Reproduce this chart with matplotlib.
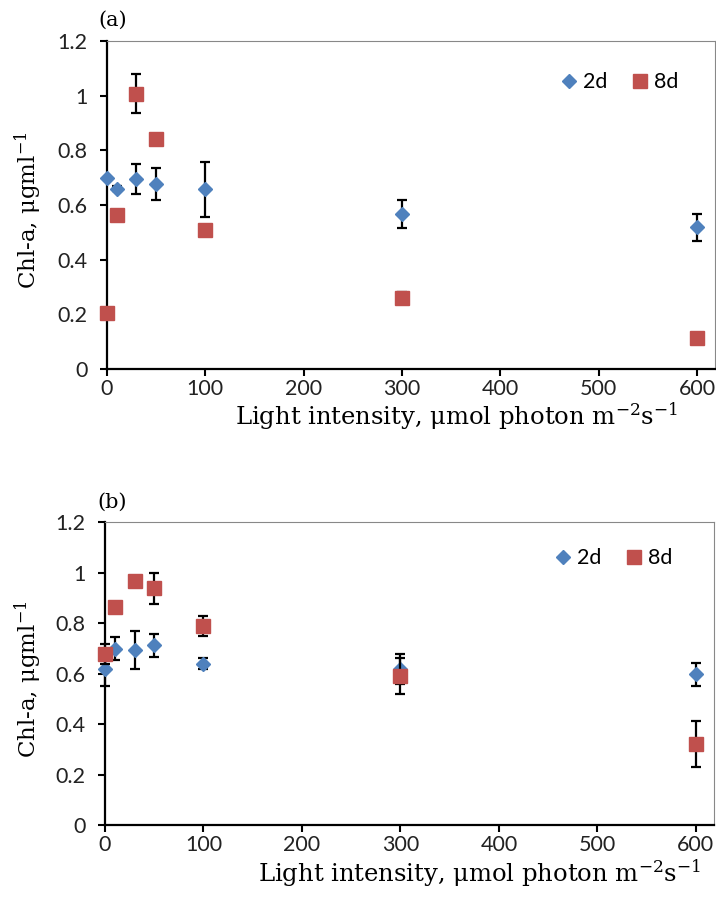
import numpy as np
import matplotlib
matplotlib.use("Agg")
import matplotlib.pyplot as plt

plt.rcParams['mathtext.default'] = 'regular'

# light intensity levels
light = [0, 10, 30, 50, 100, 300, 600]

# panel (a)
a_2d = [0.70, 0.66, 0.695, 0.677, 0.657, 0.567, 0.518]
a_2d_err = [0.0, 0.01, 0.055, 0.057, 0.10, 0.05, 0.048]
a_8d = [0.205, 0.562, 1.008, 0.842, 0.509, 0.261, 0.113]
a_8d_err = [0.0, 0.0, 0.07, 0.0, 0.0, 0.02, 0.0]

# panel (b)
b_2d = [0.617, 0.699, 0.693, 0.712, 0.639, 0.617, 0.597]
b_2d_err = [0.065, 0.045, 0.075, 0.045, 0.023, 0.06, 0.046]
b_8d = [0.676, 0.865, 0.966, 0.937, 0.788, 0.590, 0.320]
b_8d_err = [0.04, 0.0, 0.0, 0.062, 0.04, 0.07, 0.09]

BLUE = '#4F81BD'
RED = '#C0504D'
TICKFONT = 'Lato'
SERIF = ['DejaVu Serif']

fig = plt.figure(figsize=(7.16, 9.09), dpi=100)
ax1 = fig.add_axes([0.1494, 0.594, 0.849, 0.3608])
ax2 = fig.add_axes([0.1466, 0.0924, 0.850, 0.3333])


def draw(ax, y2, e2, y8, e8, xmax, label, lab_xy, leg_anchor, ylab_xy, xlab_xy):
    ax.errorbar(light, y2, yerr=e2, fmt='none', ecolor='black', elinewidth=1.6,
                capsize=3.6, capthick=1.6, zorder=2, clip_on=False)
    ax.plot(light, y2, 'D', color=BLUE, ms=7.5, mec=BLUE, zorder=3,
            label='2d', clip_on=False)
    ax.errorbar(light, y8, yerr=e8, fmt='none', ecolor='black', elinewidth=1.6,
                capsize=3.6, capthick=1.6, zorder=4, clip_on=False)
    ax.plot(light, y8, 's', color=RED, ms=9.5, mec=RED, zorder=5,
            label='8d', clip_on=False)

    ax.set_xlim(0, xmax)
    ax.set_ylim(0, 1.2)
    ax.set_xticks(np.arange(0, 601, 100))
    ax.set_yticks([0, 0.2, 0.4, 0.6, 0.8, 1.0, 1.2])
    ax.set_yticklabels(['0', '0.2', '0.4', '0.6', '0.8', '1', '1.2'])
    for t in ax.get_xticklabels() + ax.get_yticklabels():
        t.set_fontfamily(TICKFONT)
        t.set_fontsize(15.5)
        t.set_color('#222222')
    ax.tick_params(axis='x', direction='out', length=5, width=1.5, pad=2.5)
    ax.tick_params(axis='y', direction='out', length=5, width=1.5, pad=9)
    for s in ['left', 'bottom']:
        ax.spines[s].set_linewidth(1.6)
    for s in ['top', 'right']:
        ax.spines[s].set_linewidth(0.8)
        ax.spines[s].set_color('#888888')

    ax.set_xlabel(r'Light intensity, μmol photon m$^{-2}$s$^{-1}$',
                  family=SERIF, fontsize=17.5)
    ax.xaxis.set_label_coords(*xlab_xy)
    ax.set_ylabel(r'Chl-a, μgml$^{-1}$', family=SERIF, fontsize=16.5)
    ax.yaxis.set_label_coords(*ylab_xy)

    ax.legend(loc='center right', bbox_to_anchor=leg_anchor, ncol=2,
              frameon=False, handletextpad=0.15, columnspacing=1.0,
              handlelength=1.0, borderpad=0, borderaxespad=0,
              prop={'family': TICKFONT, 'size': 15.5})
    fig.text(lab_xy[0], lab_xy[1], label, family=SERIF, fontsize=15,
             ha='center', va='center')


draw(ax1, a_2d, a_2d_err, a_8d, a_8d_err, 618, '(a)', (0.158, 0.978),
     (0.94, 0.875), (-0.104, 0.485), (0.575, -0.095))
draw(ax2, b_2d, b_2d_err, b_8d, b_8d_err, 618, '(b)', (0.157, 0.447),
     (0.932, 0.881), (-0.10, 0.48), (0.615, -0.108))

fig.savefig('out.png', dpi=100)
